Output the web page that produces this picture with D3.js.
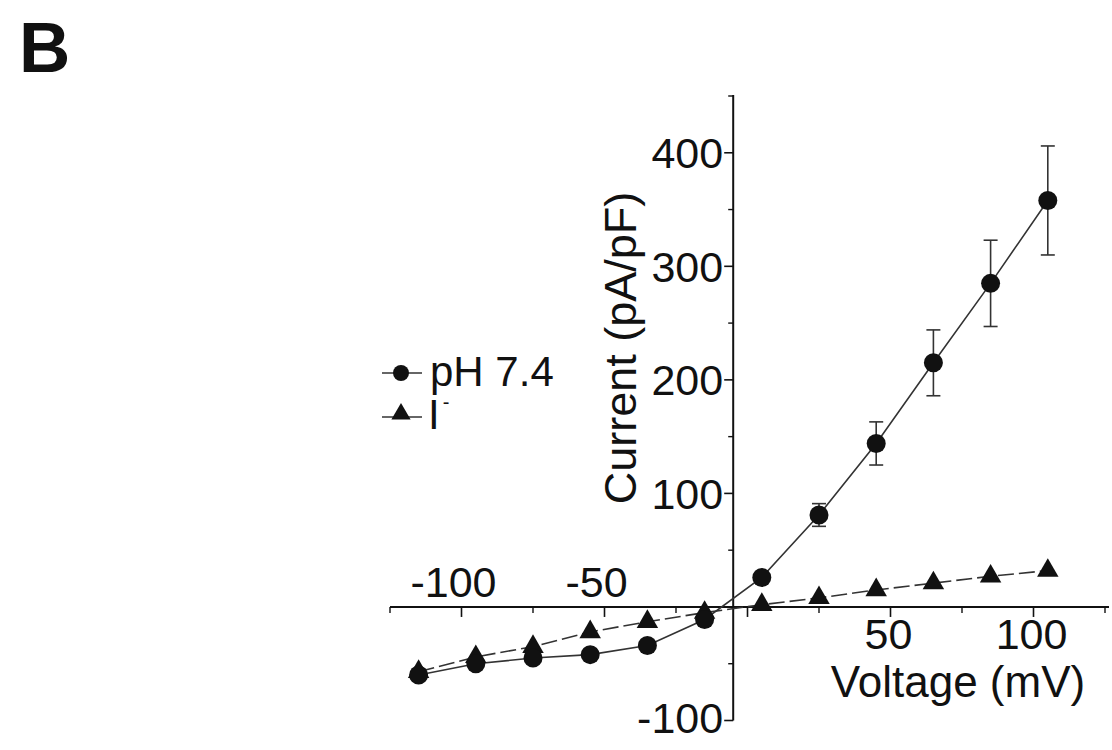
<!DOCTYPE html>
<html>
<head>
<meta charset="utf-8">
<script src="https://cdn.jsdelivr.net/npm/d3@7"></script>
<style>
  html, body { margin: 0; padding: 0; background: #fff; }
  svg { display: block; font-family: "Liberation Sans", Arial, sans-serif; }
</style>
</head>
<body>
<svg id="chart" width="1112" height="750"></svg>
<script>
// Membrane potential steps (mV)
const voltages = [-115, -95, -75, -55, -35, -15, 5, 25, 45, 65, 85, 105];
// Mean current density (pA/pF) and SEM, pH 7.4
const ph74 = [-60, -50, -45, -42, -34, -11, 26, 81, 144, 215, 285, 358];
const ph74Err = [4, 4, 4, 4, 4, 4, 4, 10, 19, 29, 38, 48];
// Mean current density (pA/pF) with iodide
const iodide = [-57, -44, -35, -22, -13, -5, 2, 8, 15, 21, 27, 32];

const xMajor = [-100, -50, 0, 50, 100];
const xMinor = [-125, -75, -25, 25, 75, 125];
const xLabels = [-100, -50, 50, 100];
const yMajor = [-100, 0, 100, 200, 300, 400];
const yMinor = [-50, 50, 150, 250, 350, 450];
const yLabels = [-100, 100, 200, 300, 400];

const svg = d3.select("#chart");
const x = d3.scaleLinear().domain([-125, 125]).range([390, 1105]);
const y = d3.scaleLinear().domain([-100, 450]).range([720.5, 96]);
const yAxisAt = -5;           // vertical axis crosses here (mV)
const ink = "#111";
const fontSize = 43;

// Panel letter
svg.append("text").attr("x", 19).attr("y", 72)
  .attr("font-size", 71).attr("font-weight", "bold").attr("fill", ink).text("B");

// Horizontal axis through zero current
const gx = svg.append("g").attr("transform", `translate(0,${y(0)})`);
gx.append("line").attr("x1", x(-125)).attr("x2", x(125) + 4)
  .attr("stroke", ink).attr("stroke-width", 2);
gx.selectAll(".maj").data(xMajor).join("line")
  .attr("x1", d => x(d)).attr("x2", d => x(d)).attr("y1", 0).attr("y2", 10)
  .attr("stroke", ink).attr("stroke-width", 1.6);
gx.selectAll(".min").data(xMinor).join("line")
  .attr("x1", d => x(d)).attr("x2", d => x(d)).attr("y1", 0).attr("y2", 6)
  .attr("stroke", ink).attr("stroke-width", 1.4);
gx.selectAll(".lab").data(xLabels).join("text")
  .attr("x", d => x(d) - (d < 0 ? 8 : 2))
  .attr("y", d => d < 0 ? -10 : 42)
  .attr("text-anchor", "middle").attr("font-size", fontSize).attr("fill", ink)
  .text(d => d < 0 ? "-" + Math.abs(d) : d);

// Vertical axis
const gy = svg.append("g").attr("transform", `translate(${x(yAxisAt)},0)`);
gy.append("line").attr("y1", y(450) - 1).attr("y2", y(-100))
  .attr("stroke", ink).attr("stroke-width", 2);
gy.selectAll(".maj").data(yMajor).join("line")
  .attr("x1", 0).attr("x2", -9).attr("y1", d => y(d)).attr("y2", d => y(d))
  .attr("stroke", ink).attr("stroke-width", 1.6);
gy.selectAll(".min").data(yMinor).join("line")
  .attr("x1", 0).attr("x2", -5).attr("y1", d => y(d)).attr("y2", d => y(d))
  .attr("stroke", ink).attr("stroke-width", 1.4);
gy.selectAll(".lab").data(yLabels).join("text")
  .attr("x", -10).attr("y", d => y(d)).attr("dy", d => d < 0 ? "0.3em" : "0.36em")
  .attr("text-anchor", "end").attr("font-size", fontSize).attr("fill", ink)
  .text(d => d < 0 ? "-" + Math.abs(d) : d);

// Axis titles
svg.append("text").attr("x", 958).attr("y", 697)
  .attr("text-anchor", "middle").attr("font-size", 44).attr("fill", ink)
  .text("Voltage (mV)");
svg.append("text")
  .attr("transform", `translate(636,348) rotate(-90)`)
  .attr("text-anchor", "middle").attr("font-size", 45).attr("fill", ink)
  .text("Current (pA/pF)");

// Series
const line = d3.line().x(d => x(d[0])).y(d => y(d[1]));
const phPts = voltages.map((v, i) => [v, ph74[i]]);
const iPts = voltages.map((v, i) => [v, iodide[i]]);

svg.append("path").datum(iPts).attr("d", line).attr("fill", "none")
  .attr("stroke", "#333").attr("stroke-width", 1.6).attr("stroke-dasharray", "16,5");
svg.append("path").datum(phPts).attr("d", line).attr("fill", "none")
  .attr("stroke", "#333").attr("stroke-width", 1.6);

// Error bars (SEM) for pH 7.4
const eb = svg.append("g").attr("stroke", "#333").attr("stroke-width", 1.6);
voltages.forEach((v, i) => {
  const cx = x(v), top = y(ph74[i] + ph74Err[i]), bot = y(ph74[i] - ph74Err[i]);
  eb.append("line").attr("x1", cx).attr("x2", cx).attr("y1", top).attr("y2", bot);
  eb.append("line").attr("x1", cx - 7).attr("x2", cx + 7).attr("y1", top).attr("y2", top);
  eb.append("line").attr("x1", cx - 7).attr("x2", cx + 7).attr("y1", bot).attr("y2", bot);
});

const tri = d3.symbol().type(d3.symbolTriangle).size(200);
svg.append("g").selectAll("path").data(iPts).join("path")
  .attr("d", tri).attr("transform", d => `translate(${x(d[0])},${y(d[1])})`)
  .attr("fill", ink);
svg.append("g").selectAll("circle").data(phPts).join("circle")
  .attr("cx", d => x(d[0])).attr("cy", d => y(d[1])).attr("r", 9.5).attr("fill", ink);

// Legend
const lg = svg.append("g");
lg.append("line").attr("x1", 382).attr("x2", 422).attr("y1", 373).attr("y2", 373)
  .attr("stroke", "#333").attr("stroke-width", 1.6);
lg.append("circle").attr("cx", 401).attr("cy", 373).attr("r", 8).attr("fill", ink);
lg.append("text").attr("x", 430).attr("y", 386).attr("font-size", 42).attr("fill", ink)
  .text("pH 7.4");
lg.append("line").attr("x1", 382).attr("x2", 422).attr("y1", 417).attr("y2", 417)
  .attr("stroke", "#333").attr("stroke-width", 1.6);
lg.append("path").attr("d", d3.symbol().type(d3.symbolTriangle).size(160))
  .attr("transform", "translate(401,414)").attr("fill", ink);
const it = lg.append("text").attr("x", 428).attr("y", 429).attr("font-size", 42).attr("fill", ink);
it.append("tspan").text("I");
it.append("tspan").attr("font-size", 20).attr("dx", 3).attr("dy", -20).text("-");
</script>
</body>
</html>
